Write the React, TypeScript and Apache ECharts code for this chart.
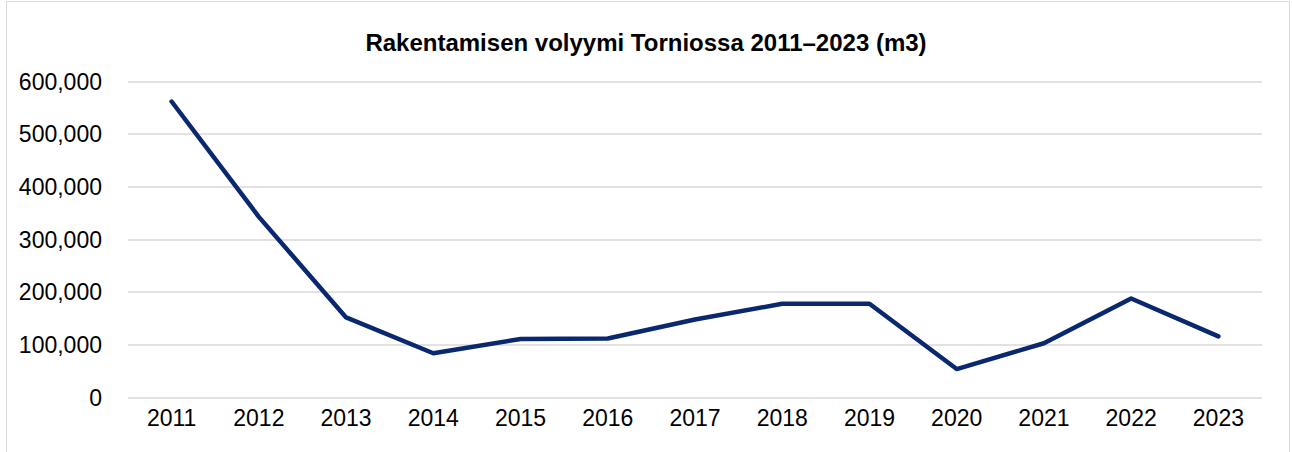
import React, { useEffect, useRef } from "react";
import * as echarts from "echarts";

const years = ["2011", "2012", "2013", "2014", "2015", "2016", "2017", "2018", "2019", "2020", "2021", "2022", "2023"];
const volume = [562000, 343000, 152000, 84000, 111000, 112000, 148000, 178000, 178000, 54000, 103000, 188000, 116000];
const titleText = "Rakentamisen volyymi Torniossa 2011–2023 (m3)";

export default function App() {
  const ref = useRef<HTMLDivElement>(null);
  useEffect(() => {
    if (!ref.current) return;
    const chart = echarts.init(ref.current, null, { renderer: "svg" });
    chart.setOption({
      animation: false,
      backgroundColor: "#ffffff",
      title: {
        text: titleText,
        left: "center",
        top: 25,
        textStyle: { fontFamily: "Liberation Sans, Arial, sans-serif", fontSize: 24, fontWeight: "bold", color: "#000000" },
      },
      graphic: [
        {
          type: "rect",
          shape: { x: 6.5, y: 1.5, width: 1283, height: 470 },
          style: { fill: "none", stroke: "#d9d9d9", lineWidth: 1 },
          silent: true,
        },
      ],
      grid: { left: 128, right: 30, top: 81.5, bottom: 54.5, containLabel: false },
      xAxis: {
        type: "category",
        data: years,
        boundaryGap: true,
        axisLine: { show: false },
        axisTick: { show: false },
        axisLabel: { color: "#000000", fontSize: 23, fontFamily: "Liberation Sans, Arial, sans-serif", margin: 9 },
      },
      yAxis: {
        type: "value",
        min: 0,
        max: 600000,
        interval: 100000,
        axisLine: { show: false },
        axisTick: { show: false },
        splitLine: { lineStyle: { color: "#d9d9d9", width: 1.5 } },
        axisLabel: {
          color: "#000000",
          fontSize: 23,
          fontFamily: "Liberation Sans, Arial, sans-serif",
          margin: 26,
          formatter: (v: number) => v.toLocaleString("en-US"),
        },
      },
      series: [
        {
          type: "line",
          data: volume,
          showSymbol: false,
          symbol: "none",
          lineStyle: { color: "#0a2870", width: 4.5, cap: "round", join: "round" },
        },
      ],
    });
    return () => chart.dispose();
  }, []);
  return <div ref={ref} style={{ position: "fixed", left: 0, top: 0, width: 1292, height: 452 }} />;
}
